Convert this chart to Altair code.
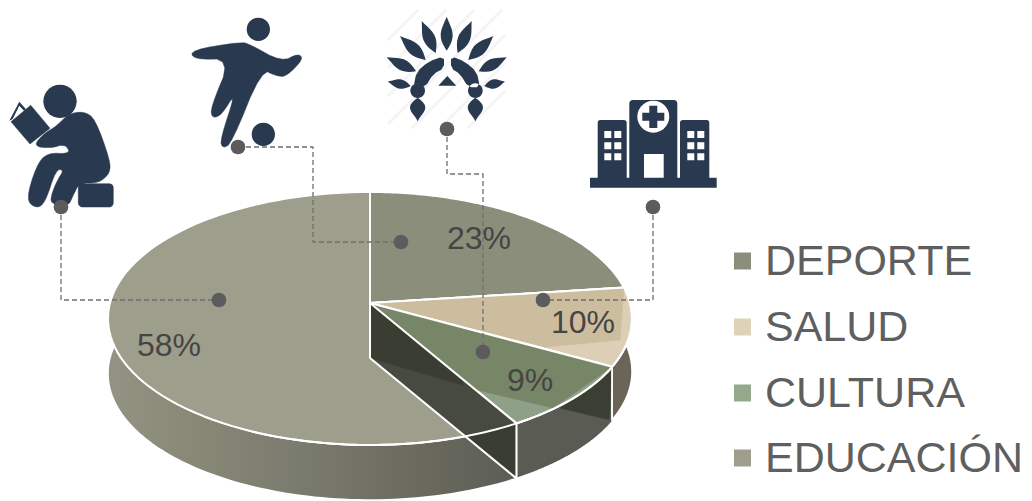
import math
import altair as alt
import pandas as pd

# ---- chart values ----
categories = ["DEPORTE", "SALUD", "CULTURA", "EDUCACIÓN"]
values = [23, 10, 8.6, 58.4]
value_labels = ["23%", "10%", "9%", "58%"]
label_x = [479, 583, 530, 169]
label_y = [249, 333, 391, 356]
legend_colors = ["#8c8e7c", "#ded2b8", "#94a88c", "#9e9e8c"]
legend_y = [261, 327, 393, 458]
legend_base = [275, 341, 407, 472]

dot_x = [61, 238, 447, 653, 219, 401, 483, 543]
dot_y = [207, 147, 129, 207, 300, 242, 352, 300]
leader_x = [[61, 61, 219], [238, 313, 313, 401], [447, 447, 483, 483], [653, 653, 543]]
leader_y = [[207, 300, 300], [147, 147, 242, 242], [129, 174, 174, 352], [207, 300, 300]]

NAVY = "#29394f"
W, H = 1016, 493
X = alt.X("x:Q", axis=None, scale=alt.Scale(domain=[8, 8 + W], range=[0, W]))
Y = alt.Y("y:Q", axis=None, scale=alt.Scale(domain=[8, 8 + H], range=[0, H]))
X2 = alt.X2("x2:Q")
Y2 = alt.Y2("y2:Q")

# ---- perspective pie geometry ----
CX, CY = 370, 303
C, A, P = 260.0, 124.6, 0.1225
DEPTH = 55


def rim(f, d=0):
    t = 2 * math.pi * f
    u, v = math.sin(t), math.cos(t)
    w = 1 + P * v
    return (CX + C * u / w, CY - A * v / w + d)


def arc(f0, f1, d=0, n=90):
    return [rim(f0 + (f1 - f0) * i / n, d) for i in range(n + 1)]


def poly(pts, fill, stroke=None, sw=0.6):
    df = pd.DataFrame({"x": [p[0] for p in pts], "y": [p[1] for p in pts], "i": range(len(pts))})
    return alt.Chart(df).mark_line(
        fill=fill, stroke=stroke or (fill if isinstance(fill, str) else "white"),
        strokeWidth=sw, interpolate="linear-closed", strokeJoin="round",
    ).encode(x=X, y=Y, order="i:Q")


def path_line(pts, color="white", sw=2.0, dash=None):
    df = pd.DataFrame({"x": [p[0] for p in pts], "y": [p[1] for p in pts], "i": range(len(pts))})
    kw = {"strokeDash": dash} if dash else {}
    return alt.Chart(df).mark_line(color=color, strokeWidth=sw, strokeJoin="round", **kw).encode(
        x=X, y=Y, order="i:Q")


cum = [0]
for v in values:
    cum.append(cum[-1] + v / sum(values))
f_dep, f_sal, f_cul = cum[1], cum[2], cum[3]
apex = (CX, CY)
apex2 = (CX, CY + DEPTH)
corner = rim(f_cul)
corner2 = rim(f_cul, DEPTH)

# where the inner wall's lower edge crosses the big slice's rim
cross = rim(0.445)
for i in range(400):
    f = f_cul + 0.2 * i / 400
    px, py = rim(f)
    ly = apex2[1] + (px - apex2[0]) * (corner2[1] - apex2[1]) / (corner2[0] - apex2[0])
    if py >= ly:
        cross = (px, py)
        break

wall_grad = alt.LinearGradient(
    gradient="linear", x1=0, x2=1, y1=0, y2=0,
    stops=[alt.GradientStop(color="#939383", offset=0),
           alt.GradientStop(color="#868674", offset=0.25),
           alt.GradientStop(color="#7b7c70", offset=0.45),
           alt.GradientStop(color="#6e6d61", offset=0.7),
           alt.GradientStop(color="#5b5d54", offset=1)])

layers = []
# outer walls
layers.append(poly(arc(f_cul, 0.77) + arc(f_cul, 0.77, DEPTH)[::-1], wall_grad, "white", 1.5))
layers.append(poly(arc(f_sal, f_cul) + arc(f_sal, f_cul, DEPTH)[::-1], "#5a5c53", "white", 1.5))
s2 = rim(f_sal)
s3 = rim(f_sal, DEPTH - 2)
layers.append(poly([s2, (560, 408), (s3[0] - 3, s3[1])], "#3b3f33"))
layers.append(poly(arc(0.2, f_sal) + arc(0.2, f_sal, DEPTH - 2)[::-1], "#6a6558", "white", 1.5))

# top faces
layers.append(poly([apex] + arc(f_cul, 1.0), "#9e9e8c", "white", 2))
layers.append(poly([apex] + arc(0, f_dep), "#8c8e7c", "white", 2))
layers.append(poly([apex] + arc(f_dep, f_sal), "#dccfb6", "white", 2))
dep_end = rim(f_dep)
layers.append(poly([apex, (dep_end[0], dep_end[1] + 1), (620, 340), (546, 347)], "#cdbd9f"))
layers.append(poly([apex] + arc(f_sal, f_cul), "#8fa088", "white", 2))
layers.append(poly([apex, s2, (553, 408), (477, 390)], "#788668"))

# inner wall seen through the front of the big slice
layers.append(poly([apex, corner, cross, apex2], "#474a3e"))
layers.append(poly([apex, (463, 379), (463, 385), apex2], "#3a3d32"))
layers.append(poly([cross, corner, corner2], "#3a3d32"))

# white edges
layers.append(path_line([rim(0), apex, dep_end]))
layers.append(path_line([apex, s2]))
layers.append(path_line(arc(f_sal - 0.15, f_cul + 0.15)))
layers.append(path_line([apex, corner, corner2, apex2, apex]))
layers.append(path_line([s2, s3], sw=1.5))


# ---- icons ----
def fmt(pts, ox, oy):
    return "M" + "L".join(f"{(x / 3 + ox):.1f} {(y / 3 + oy):.1f}" for x, y in pts) + "Z"


def circ(cx, cy, r, n=28):
    return [(cx + r * math.cos(2 * math.pi * i / n), cy + r * math.sin(2 * math.pi * i / n)) for i in range(n)]


def leaf(x1, y1, x2, y2, w, n=10, bias=1.15):
    dx, dy = x2 - x1, y2 - y1
    L = math.hypot(dx, dy)
    nx, ny = -dy / L, dx / L
    left, right = [], []
    for i in range(n + 1):
        s = i / n
        o = w / 2 * math.sin(math.pi * s ** bias)
        left.append((x1 + dx * s + nx * o, y1 + dy * s + ny * o))
        right.append((x1 + dx * s - nx * o, y1 + dy * s - ny * o))
    return left + right[::-1]


def rect(x0, y0, x1, y1):
    return [(x0, y0), (x1, y0), (x1, y1), (x0, y1)]


def rrect(x0, y0, x1, y1, r):
    out = []
    for cx, cy, a0 in ((x1 - r, y0 + r, -90), (x1 - r, y1 - r, 0), (x0 + r, y1 - r, 90), (x0 + r, y0 + r, 180)):
        for k in range(5):
            a = math.radians(a0 + 22.5 * k)
            out.append((cx + r * math.cos(a), cy + r * math.sin(a)))
    return out


def chaikin(pts, n=2):
    for _ in range(n):
        new = []
        for i in range(len(pts)):
            a, b = pts[i], pts[(i + 1) % len(pts)]
            new.append((0.75 * a[0] + 0.25 * b[0], 0.75 * a[1] + 0.25 * b[1]))
            new.append((0.25 * a[0] + 0.75 * b[0], 0.25 * a[1] + 0.75 * b[1]))
        pts = new
    return pts


icons = []


def icon(x, y, path_list, fill=NAVY, sw=0.0, ox=0, oy=0):
    # ox/oy: zoom-crop origin; the anchor (x, y) is in page pixels
    d = "".join(fmt(p, ox - x, oy - y) for p in path_list)
    icons.append({"x": x, "y": y, "path": d, "fill": fill, "sw": sw})


# reader
icon(60, 140, [circ(180, 304, 50)])
icon(60, 140, [
    chaikin([(130, 402), (170, 378), (205, 342), (250, 334), (285, 355), (330, 480), (330, 520), (295, 550), (238, 548),
             (218, 590), (205, 618), (155, 612), (152, 590), (172, 540), (192, 510), (168, 508), (135, 610), (108, 625),
             (78, 600), (108, 500), (140, 458), (212, 462), (196, 432), (150, 445), (100, 438)], 2),
    [(33, 365), (92, 316), (150, 385), (90, 432)],
    rrect(235, 551, 340, 621, 12),
], sw=0.5)
icon(60, 140, [[(28, 362), (58, 305), (78, 328), (72, 332), (58, 317), (38, 357)]])

# soccer player
icon(246, 80, [circ(775, 88, 35), circ(790, 403, 35)])
icon(246, 80, [chaikin([(573, 150), (722, 126), (748, 132), (845, 186), (895, 160), (910, 178), (858, 230), (830, 228),
                        (785, 208), (695, 430), (668, 445), (660, 420), (708, 275), (665, 345), (636, 355), (632, 322),
                        (693, 177), (580, 178)], 2)], sw=0.5)

# headdress (crop origin 370,0)
feathers = [(230, 50, 230, 152, 36), (155, 63, 197, 159, 36), (305, 63, 263, 159, 36), (90, 108, 167, 180, 36),
            (370, 108, 295, 180, 36), (50, 172, 138, 214, 34), (410, 172, 326, 214, 34), (53, 245, 122, 258, 28),
            (405, 245, 343, 258, 28)]
hd = [leaf(*f) for f in feathers]
hd += [chaikin([(130, 262), (140, 215), (175, 185), (222, 168), (222, 205), (190, 222), (165, 262)], 1),
       chaikin([(330, 262), (320, 215), (285, 185), (243, 168), (243, 205), (270, 222), (295, 262)], 1),
       [(205, 257), (232, 228), (259, 257)],
       circ(143, 272, 22), circ(316, 272, 22),
       leaf(143, 364, 143, 293, 46, bias=1.3), leaf(316, 364, 316, 293, 46, bias=1.3)]
icon(447, 60, hd, ox=370)

# hospital (crop origin 370,0)
icon(653, 140, [rect(660, 533, 1040, 563), rrect(683, 360, 770, 545, 8), rrect(778, 300, 922, 545, 10),
                rrect(930, 360, 1018, 545, 8)], ox=370)
whites = [circ(850, 350, 48), rect(822, 462, 881, 533)]
for wx in (703, 733, 952, 982):
    for wy in (393, 427, 460):
        whites.append(rect(wx, wy, wx + 21, wy + 21))
icon(653, 140, whites, fill="white", ox=370)
icon(653, 140, [[(838, 317), (862, 317), (862, 338), (883, 338), (883, 362), (862, 362), (862, 384), (838, 384),
                 (838, 362), (817, 362), (817, 338), (838, 338)]], ox=370)

icon_df = pd.DataFrame(icons)
icon_df["k"] = range(len(icon_df))
icon_layer = alt.Chart(icon_df).mark_point(filled=True, opacity=1, strokeJoin="round").encode(
    x=X, y=Y,
    shape=alt.Shape("path:N", scale=None, legend=None),
    fill=alt.Fill("fill:N", scale=None),
    stroke=alt.Stroke("fill:N", scale=None),
    strokeWidth=alt.StrokeWidth("sw:Q", scale=None),
    size=alt.value(4),
    order="k:Q",
)

# hatch behind the headdress
hatch_c = [428, 456, 484, 512, 540, 568, 596]
hatch = []
for c in hatch_c:
    x0 = max(388, c - 128)
    x1 = min(505, c - 10)
    hatch.append({"x": x0, "y": c - x0, "x2": x1, "y2": c - x1})
hatch_layer = alt.Chart(pd.DataFrame(hatch)).mark_rule(color="#f4f4f4", strokeWidth=2.5).encode(x=X, y=Y, x2=X2, y2=Y2)

# leaders and dots
leader_layers = [path_line(list(zip(a, b)), color="#6f6f72", sw=1.3, dash=[5, 3]) for a, b in zip(leader_x, leader_y)]
dots = alt.Chart(pd.DataFrame({"x": dot_x, "y": dot_y})).mark_circle(color="#5c5c5e", opacity=1, size=216).encode(x=X, y=Y)

# value labels
vlabels = alt.Chart(pd.DataFrame({"x": label_x, "y": label_y, "t": value_labels})).mark_text(
    font="Liberation Sans", fontSize=32, align="center", baseline="alphabetic", color="#454543"
).encode(x=X, y=Y, text="t:N")

# legend
leg_sq = alt.Chart(pd.DataFrame({"x": [742.5] * 4, "y": legend_y, "c": legend_colors})).mark_square(
    size=289, opacity=1).encode(x=X, y=Y, color=alt.Color("c:N", scale=None))
leg_tx = alt.Chart(pd.DataFrame({"x": [765] * 4, "y": legend_base, "t": categories})).mark_text(
    font="Liberation Sans", fontSize=43, align="left", baseline="alphabetic", color="#5f5f5f"
).encode(x=X, y=Y, text="t:N")

chart = alt.layer(hatch_layer, *layers, *leader_layers, icon_layer, dots, vlabels, leg_sq, leg_tx).properties(
    width=W, height=H, padding=0, autosize=alt.AutoSizeParams(type="none"),
).configure_view(stroke=None)

chart.save("out.html", embed_options={"renderer": "svg", "actions": False})
